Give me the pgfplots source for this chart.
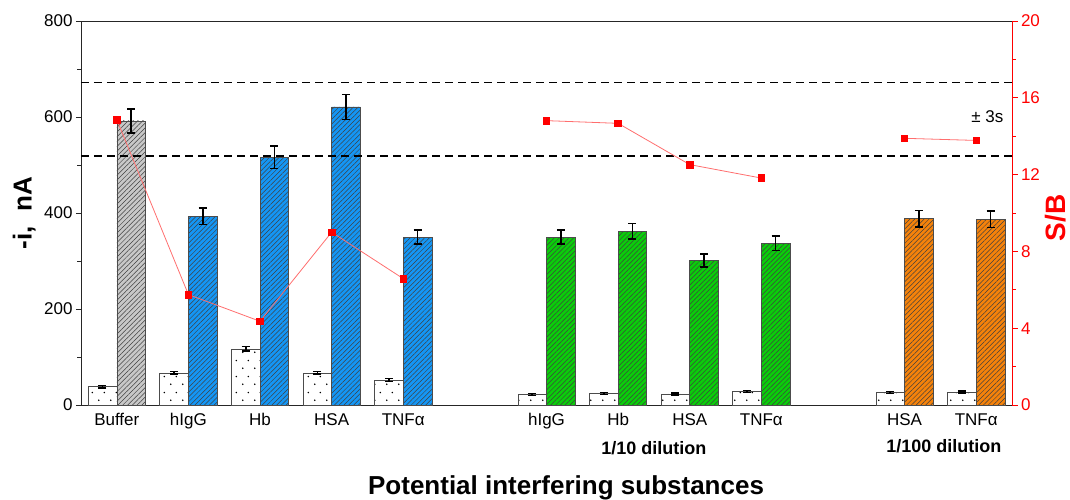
\documentclass[border=0pt]{standalone}
\usepackage{pgfplots}
\usepackage{pgfplotstable}
\pgfplotsset{compat=1.18}
\usetikzlibrary{patterns.meta,calc}
\usepackage{fontspec}
\setmainfont{Liberation Sans}

\definecolor{bgray}{RGB}{200,200,200}
\definecolor{bblue}{RGB}{20,150,245}
\definecolor{bgreen}{RGB}{10,205,10}
\definecolor{borange}{RGB}{245,130,10}
\definecolor{lred}{RGB}{255,110,110}

\tikzdeclarepattern{
  name=mydots,
  type=uncolored,
  bounding box={(0pt,0pt) and (12pt,16pt)},
  tile size={(12pt,16pt)},
  code={
    \fill (3pt,4pt) circle (0.9pt);
    \fill (9pt,12pt) circle (0.9pt);
  }
}

\pgfplotstableread{
x y e
-0.2 38 3
0.8 67 3
1.8 117 5
2.8 67 3
3.8 52 3
5.8 22 2
6.8 24 2
7.8 23 2
8.8 28 2
10.8 26 2
11.8 27 2
}\blank
\pgfplotstableread{
x y e
0.2 592 25
}\buffer
\pgfplotstableread{
x y e
1.2 393 17
2.2 516 23
3.2 621 26
4.2 350 15
}\blue
\pgfplotstableread{
x y e
6.2 350 15
7.2 362 16
8.2 301 14
9.2 337 15
}\green
\pgfplotstableread{
x y e
11.2 388 17
12.2 387 17
}\orange

\begin{document}
\begin{tikzpicture}
\pgfplotsset{
  hatchbar/.style={ybar, bar width=0.4, bar shift=0pt, draw=black!70, line width=0.6pt,
    postaction={pattern={Lines[angle=45,distance=3.4pt,line width=0.5pt]}, pattern color=black!75}},
  errs/.style={draw=none, mark=none, forget plot,
    error bars/.cd, y dir=both, y explicit,
    error bar style={draw=black, line width=1.6pt},
    error mark options={draw=black, fill=black, line width=1.6pt, mark size=4pt, rotate=90}},
}
\begin{axis}[
  name=main,
  scale only axis, width=931pt, height=384pt,
  xmin=-0.5, xmax=12.5, ymin=0, ymax=800,
  axis x line*=box, axis y line*=left,
  axis line style={black!85, line width=0.9pt},
  xtick={0,1,2,3,4,6,7,8,9,11,12},
  xticklabels={Buffer,hIgG,Hb,HSA,TNFα,hIgG,Hb,HSA,TNFα,HSA,TNFα},
  xtick style={draw=none},
  ytick={0,200,...,800}, minor y tick num=1,
  tick align=outside, major tick length=5pt, minor tick length=3.5pt,
  ytick style={black!85, line width=0.9pt},
  tick label style={font=\fontsize{17}{20}\selectfont},
  /pgf/number format/assume math mode=true,
  ylabel={-i,\ \ nA},
  ylabel style={font=\bfseries\fontsize{26}{30}\selectfont, at={(axis description cs:-0.061,0.5)}, anchor=center},
  xlabel={Potential interfering substances},
  xlabel style={font=\bfseries\fontsize{26}{30}\selectfont, at={(axis description cs:0.521,-0.2318)}, anchor=base},
  clip=false,
]
\addplot[ybar, bar width=0.4, bar shift=0pt, fill=white, draw=black!70, line width=0.6pt,
  postaction={pattern=mydots, pattern color=black}] table[x=x,y=y] {\blank};
\addplot[hatchbar, fill=bgray] table[x=x,y=y] {\buffer};
\addplot[hatchbar, fill=bblue] table[x=x,y=y] {\blue};
\addplot[hatchbar, fill=bgreen] table[x=x,y=y] {\green};
\addplot[hatchbar, fill=borange] table[x=x,y=y] {\orange};
\addplot[errs] table[x=x,y=y,y error=e] {\blank};
\addplot[errs] table[x=x,y=y,y error=e] {\buffer};
\addplot[errs] table[x=x,y=y,y error=e] {\blue};
\addplot[errs] table[x=x,y=y,y error=e] {\green};
\addplot[errs] table[x=x,y=y,y error=e] {\orange};
\addplot[black, line width=1.4pt, dash pattern=on 8pt off 5pt, forget plot] coordinates {(-0.5,672) (12.5,672)};
\addplot[black, line width=1.4pt, dash pattern=on 8pt off 5pt, forget plot] coordinates {(-0.5,519) (12.5,519)};
\node[anchor=base east, font=\fontsize{17}{20}\selectfont] at (axis cs:12.43,588) {± 3s};
\node[anchor=base, font=\bfseries\fontsize{18}{21}\selectfont] at (axis cs:7.5,-104) {1/10 dilution};
\node[anchor=base, font=\bfseries\fontsize{18}{21}\selectfont] at (axis cs:11.55,-99) {1/100 dilution};
\end{axis}
\begin{axis}[
  scale only axis, width=931pt, height=384pt,
  xmin=-0.5, xmax=12.5, ymin=0, ymax=20,
  axis x line=none, axis y line*=right,
  axis line style={red, line width=0.9pt},
  ytick={0,4,...,20}, minor y tick num=1,
  tick align=outside, major tick length=5.5pt, minor tick length=3.5pt,
  ytick style={red, line width=0.9pt},
  yticklabel style={red, font=\fontsize{17}{20}\selectfont},
  /pgf/number format/assume math mode=true,
  ylabel={S/B},
  ylabel style={red, font=\bfseries\fontsize{28}{33}\selectfont, at={(axis description cs:1.047,0.487)}, anchor=center, rotate=0},
  clip=false,
]
\addplot[lred, line width=0.8pt, mark=square*, mark size=3.3pt, mark options={solid, fill=red, draw=red}]
  coordinates {(0,14.86) (1,5.75) (2,4.36) (3,9.0) (4,6.58)};
\addplot[lred, line width=0.8pt, mark=square*, mark size=3.3pt, mark options={solid, fill=red, draw=red}]
  coordinates {(6,14.81) (7,14.67) (8,12.52) (9,11.82)};
\addplot[lred, line width=0.8pt, mark=square*, mark size=3.3pt, mark options={solid, fill=red, draw=red}]
  coordinates {(11,13.89) (12,13.78)};
\end{axis}
\pgfresetboundingbox
\useasboundingbox ($(main.south west)+(-81pt,-94pt)$) rectangle ($(main.south west)+(989pt,405pt)$);
\end{tikzpicture}
\end{document}
